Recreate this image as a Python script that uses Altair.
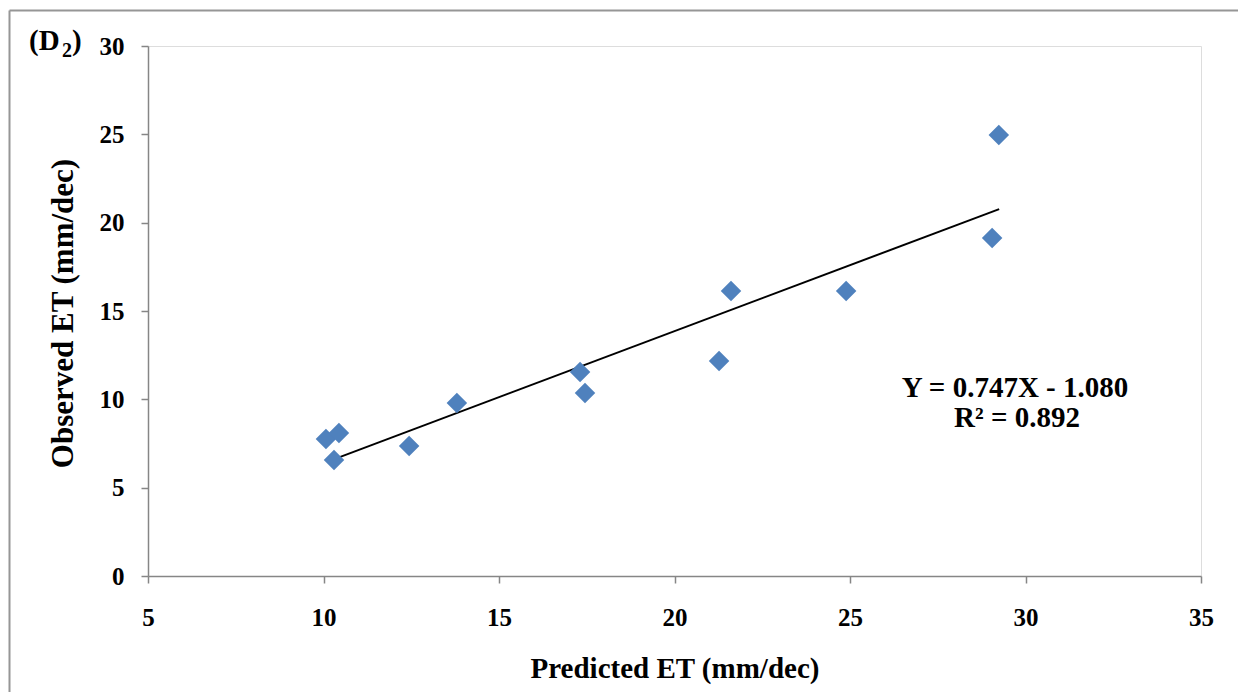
import altair as alt
import pandas as pd

# Data
predicted = [10.07, 10.44, 10.30, 12.44, 13.80, 17.31, 17.45, 21.27, 21.61, 24.89, 29.05, 29.24]
observed = [7.75, 8.09, 6.57, 7.36, 9.79, 11.55, 10.36, 12.17, 16.13, 16.13, 19.13, 24.96]

trend_x = [10.10, 29.25]
trend_y = [6.46, 20.77]

x_ticks = [5, 10, 15, 20, 25, 30, 35]
y_ticks = [0, 5, 10, 15, 20, 25, 30]

equation_lines = ["Y = 0.747X - 1.080", "R² = 0.892"]

FONT = "Liberation Serif"
GREY = "#868686"
BLUE = "#4F81BD"

pts = pd.DataFrame({"x": predicted, "y": observed})
trend = pd.DataFrame({"x": trend_x, "y": trend_y})

xscale = alt.Scale(domain=[5, 35], nice=False, zero=False)
yscale = alt.Scale(domain=[0, 30], nice=False, zero=False)

points = alt.Chart(pts).mark_point(
    shape="diamond", filled=True, size=420, color=BLUE, opacity=1
).encode(
    x=alt.X("x:Q", scale=xscale, axis=alt.Axis(
        title="Predicted ET (mm/dec)", values=x_ticks, grid=False,
        domainColor=GREY, domainWidth=1.5, tickColor=GREY, tickWidth=1.5, tickSize=7,
        labelFont=FONT, labelFontSize=25, labelFontWeight="bold", labelColor="black",
        labelPadding=22, labelFlush=False,
        titleFont=FONT, titleFontSize=29, titleFontWeight="bold", titleColor="black",
        titleBaseline="alphabetic", titleY=101, titleX=526.5)),
    y=alt.Y("y:Q", scale=yscale, axis=alt.Axis(
        title="Observed ET (mm/dec)", values=y_ticks, grid=False,
        domainColor=GREY, domainWidth=1.5, tickColor=GREY, tickWidth=1.5, tickSize=7,
        labelFont=FONT, labelFontSize=25, labelFontWeight="bold", labelColor="black",
        labelPadding=17, labelFlush=False,
        titleFont=FONT, titleFontSize=31, titleFontWeight="bold", titleColor="black",
        titleBaseline="alphabetic", titleX=-76, titleY=267)),
)

line = alt.Chart(trend).mark_line(color="black", strokeWidth=2).encode(
    x=alt.X("x:Q", scale=xscale), y=alt.Y("y:Q", scale=yscale)
)

one = alt.Data(values=[{}])

frame_left = alt.Chart(one).mark_rule(color="#969696", strokeWidth=2).encode(
    x=alt.value(-138.5), y=alt.value(-35.5), y2=alt.value(700)
)
frame_top = alt.Chart(one).mark_rule(color="#969696", strokeWidth=2).encode(
    x=alt.value(-138.5), x2=alt.value(1200), y=alt.value(-35.5)
)

eq1 = alt.Chart(one).mark_text(
    text=equation_lines[0], font=FONT, fontSize=29, fontWeight="bold", align="center",
    baseline="alphabetic", color="black"
).encode(x=alt.value(867), y=alt.value(351))
eq2 = alt.Chart(one).mark_text(
    text=equation_lines[1], font=FONT, fontSize=29, fontWeight="bold", align="center",
    baseline="alphabetic", color="black"
).encode(x=alt.value(869), y=alt.value(381))

lab_a = alt.Chart(one).mark_text(
    text="(D", font=FONT, fontSize=29, fontWeight="bold", align="left",
    baseline="alphabetic", color="black"
).encode(x=alt.value(-119), y=alt.value(4))
lab_b = alt.Chart(one).mark_text(
    text="2", font=FONT, fontSize=20, fontWeight="bold", align="left",
    baseline="alphabetic", color="black"
).encode(x=alt.value(-86), y=alt.value(11))
lab_c = alt.Chart(one).mark_text(
    text=")", font=FONT, fontSize=29, fontWeight="bold", align="left",
    baseline="alphabetic", color="black"
).encode(x=alt.value(-76), y=alt.value(4))

chart = alt.layer(
    frame_left, frame_top, line, points, eq1, eq2, lab_a, lab_b, lab_c
).properties(
    width=1053, height=530,
    autosize=alt.AutoSizeParams(type="none"),
    padding={"left": 140, "top": 38, "right": 37, "bottom": 116},
).configure_view(stroke=None).configure_axis(
    labelFont=FONT, titleFont=FONT
).configure(background="white", font=FONT)

chart.save("out.html", embed_options={"renderer": "svg", "actions": False})
